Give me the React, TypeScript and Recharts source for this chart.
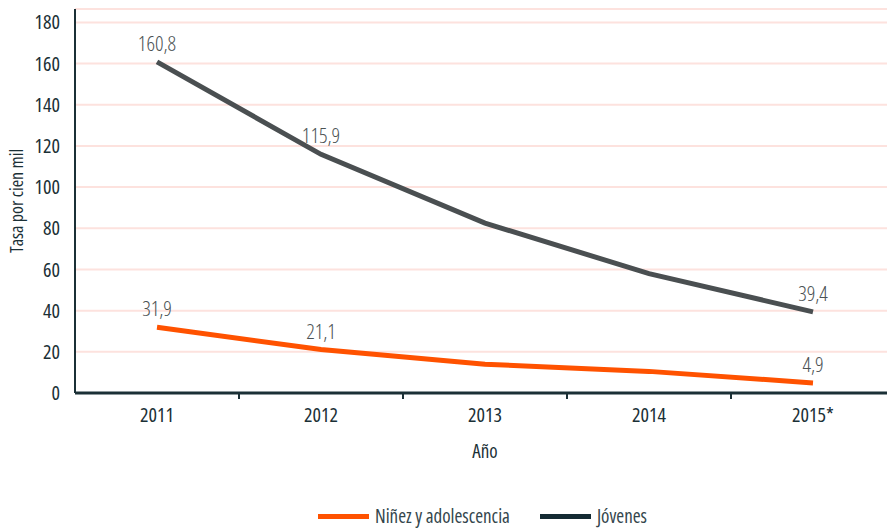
import React from 'react';
import { LineChart, Line, XAxis, YAxis, CartesianGrid, Legend, LabelList } from 'recharts';

const years = ['2011', '2012', '2013', '2014', '2015*'];
const ninez = [31.9, 21.1, 14, 10.5, 4.9];
const jovenes = [160.8, 115.9, 82.5, 58, 39.4];
const yTicks = [0, 20, 40, 60, 80, 100, 120, 140, 160, 180];
const labelledIdx = [0, 1, 4];

const series = [
  { key: 'ninez', name: 'Niñez y adolescencia', stroke: '#ff5200', legend: '#ff5200' },
  { key: 'jovenes', name: 'Jóvenes', stroke: '#4a4f51', legend: '#142b33' },
];

const data = years.map((year, i) => ({ year, ninez: ninez[i], jovenes: jovenes[i] }));

const dark = '#1b3036';
const font = '"Open Sans", sans-serif';
const halfBand = 82;

const renderValue = (props: any) => {
  const { x, y, value, index } = props;
  if (!labelledIdx.includes(index)) return null;
  return (
    <text x={x} y={y - 11} textAnchor="middle" fill="#4b5254" fontSize={21} fontWeight={300}>
      {String(value).replace('.', ',')}
    </text>
  );
};

// year label plus the small mark on the band boundary to its left
const renderYear = (props: any) => {
  const { x, y, payload } = props;
  const i = years.indexOf(payload.value);
  const bx = Number(x) - halfBand;
  const by = Number(y);
  return (
    <g>
      {i > 0 && <path d={`M${bx},${by - 15}L${bx},${by - 9}`} stroke={dark} strokeWidth={2} fill="none" />}
      <text x={x} y={y} dy="0.72em" textAnchor="middle" fill={dark} fontSize={20}>
        {payload.value}
      </text>
    </g>
  );
};

const renderLegend = () => (
  <div style={{ display: 'flex', justifyContent: 'center', alignItems: 'center', height: 24 }}>
    {series.map((s, i) => (
      <div key={s.key} style={{ display: 'flex', alignItems: 'center', marginLeft: i ? 30 : 0 }}>
        <span style={{ display: 'inline-block', width: 51, height: 5, background: s.legend, marginRight: 6 }} />
        <span style={{ color: '#34464c', fontSize: 19 }}>{s.name}</span>
      </div>
    ))}
  </div>
);

const App = () => (
  <div
    style={{
      position: 'fixed',
      left: 0,
      top: 0,
      width: 887,
      height: 528,
      overflow: 'hidden',
      background: '#fff',
      fontFamily: font,
      fontStretch: '75%',
    }}
  >
    <LineChart width={895} height={528} data={data} margin={{ top: 9, right: 0, bottom: 0, left: 0 }}>
      <CartesianGrid vertical={false} stroke="#fde2de" strokeWidth={2} />
      <XAxis
        dataKey="year"
        padding={{ left: halfBand, right: halfBand }}
        height={111}
        tickLine={false}
        tickSize={0}
        tickMargin={15}
        axisLine={{ stroke: dark, strokeWidth: 3 }}
        tick={renderYear}
        label={{ value: 'Año', position: 'insideTop', offset: 52, fill: dark, fontSize: 19 }}
      />
      <YAxis
        width={75}
        domain={[0, 186.5]}
        ticks={yTicks}
        allowDataOverflow
        tickLine={false}
        tickSize={0}
        tickMargin={15}
        axisLine={{ stroke: dark, strokeWidth: 2 }}
        tick={{ fill: dark, fontSize: 20 }}
        label={({ viewBox }: any) => (
          <text
            x={16}
            y={viewBox.y + viewBox.height / 2}
            transform={`rotate(-90, 16, ${viewBox.y + viewBox.height / 2})`}
            textAnchor="middle"
            dominantBaseline="central"
            fill={dark}
            fontSize={18}
          >
            Tasa por cien mil
          </text>
        )}
      />
      <Legend verticalAlign="bottom" height={24} content={renderLegend} wrapperStyle={{ left: 75, width: 815 }} />
      {series.map((s) => (
        <Line
          key={s.key}
          type="linear"
          dataKey={s.key}
          name={s.name}
          stroke={s.stroke}
          strokeWidth={5}
          dot={false}
          activeDot={false}
          isAnimationActive={false}
        >
          <LabelList dataKey={s.key} content={renderValue} />
        </Line>
      ))}
    </LineChart>
  </div>
);

export default App;
